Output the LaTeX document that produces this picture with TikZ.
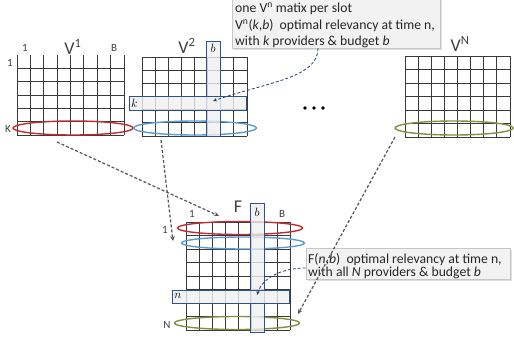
\documentclass[tikz,border=0pt]{standalone}
\usepackage{fontspec}
\setmainfont{Carlito}
\usetikzlibrary{shapes.geometric,arrows.meta,shadows}
\definecolor{gridc}{HTML}{3A3A3A}
\definecolor{boxblue}{HTML}{2E528F}
\definecolor{ered}{HTML}{C42A30}
\definecolor{eblue}{HTML}{5B9BD5}
\definecolor{egreen}{HTML}{7F9140}
\definecolor{arrgray}{HTML}{555555}
\definecolor{linkblue}{HTML}{24426E}
\definecolor{labc}{HTML}{404040}
\newcommand{\drawgrid}[7]{%
  \foreach \i in {0,...,#5} {\draw[gridline] ({#1+\i*(#3-#1)/#5},#2) -- ({#1+\i*(#3-#1)/#5},#4);}
  \foreach \j in {#7,...,#6} {\draw[gridline] (#1,{#2+\j*(#4-#2)/#6}) -- (#3,{#2+\j*(#4-#2)/#6});}
}
\tikzset{
  gridline/.style={draw=gridc, line width=0.8pt},
  ell/.style={ellipse, inner sep=0pt, line width=1.4pt},
  hbox/.style={draw=boxblue, line width=1pt, fill=gray!12, fill opacity=0.8, inner sep=0pt},
  bigv/.style={font=\fontsize{18}{18}\selectfont, text=labc, inner sep=0pt},
  smalllab/.style={font=\fontsize{11}{11}\selectfont, text=labc, inner sep=0pt},
  mathlab/.style={font=\fontsize{13}{13}\selectfont, inner sep=0pt},
  calloutbox/.style={draw=gray!45, fill=gray!10, line width=0.6pt, inner sep=0pt,
    drop shadow={shadow xshift=2pt, shadow yshift=-2pt, opacity=0.25}},
  callouttext/.style={align=left, inner sep=0pt, anchor=west, text=black!85},
  grayarrow/.style={draw=arrgray, line width=1.2pt, dash pattern=on 3pt off 2pt,
    -{Stealth[length=5pt,width=4.5pt]}},
  bluearrow/.style={draw=linkblue, line width=0.8pt, dash pattern=on 3pt off 2pt,
    -{Stealth[length=4pt,width=3.5pt]}},
}
\begin{document}
\begin{tikzpicture}[x=1pt,y=-1pt]
\useasboundingbox (0,0) rectangle (514,343);
\fill[white] (0,0) rectangle (514,343);

% grids
\drawgrid{17}{55}{124}{135}{8}{6}{1}
\drawgrid{142}{57}{247}{136}{8}{6}{0}
\drawgrid{405}{56}{510}{137}{8}{6}{0}
\drawgrid{186}{222}{290}{330}{8}{8}{0}

% ellipses
\node[ell, draw=ered, minimum width=120pt, minimum height=14pt] (e1) at (73,128) {};
\node[ell, draw=eblue, minimum width=123pt, minimum height=14pt] (e2) at (195,128) {};
\node[ell, draw=egreen, minimum width=118pt, minimum height=14pt] (eN) at (454,128) {};
\node[ell, draw=ered, minimum width=125pt, minimum height=13pt] (fR) at (240,228) {};
\node[ell, draw=eblue, minimum width=123pt, minimum height=12pt] (fB) at (243,243) {};
\node[ell, draw=egreen, minimum width=125pt, minimum height=13pt] (fG) at (237,323) {};

% highlight boxes
\node[hbox, minimum width=14pt, minimum height=95pt] (bV) at (213,88.5) {};
\node[hbox, minimum width=117pt, minimum height=14pt] (kV) at (187.5,103) {};
\node[hbox, minimum width=14pt, minimum height=129pt] (bF) at (257,267.5) {};
\node[hbox, minimum width=117pt, minimum height=13pt] (nF) at (230.5,296.5) {};
\node[mathlab] (lbV) at (213,48) {$b$};
\node[mathlab] (lkV) at (134.5,103) {$k$};
\node[mathlab] (lbF) at (257,212) {$b$};
\node[mathlab] (lnF) at (178,296) {$n$};

% labels
\node[bigv] (V1) at (73,47) {V\textsuperscript{1}};
\node[bigv] (V2) at (187,46) {V\textsuperscript{2}};
\node[bigv] (VN) at (460,44) {V\textsuperscript{N}};
\node[bigv] (F) at (238,207) {F};
\node[smalllab] (c1a) at (25,48) {1};
\node[smalllab] (cBa) at (114,48) {B};
\node[smalllab] (r1a) at (10,63) {1};
\node[smalllab] (rKa) at (8,129) {K};
\node[smalllab] (c1f) at (192,214) {1};
\node[smalllab] (cBf) at (282,214) {B};
\node[smalllab] (r1f) at (165,230) {1};
\node[smalllab] (rNf) at (167,325) {N};

% dots
\fill[black] (305,108) circle (1.8) (314,108) circle (1.8) (323,108) circle (1.8);

% callouts
\node[calloutbox, minimum width=208pt, minimum height=52pt] (call1) at (336,22) {};
\node[callouttext, font=\fontsize{13.7}{16.5}\selectfont] (call1t) at (235,25.5)
  {one V\textsuperscript{n} matix per slot\\
   V\textsuperscript{n}(\textit{k},\textit{b})\ \ optimal relevancy at time n,\\
   with \textit{k} providers \& budget \textit{b}};
\node[calloutbox, minimum width=204pt, minimum height=31pt] (call2) at (408,263.5) {};
\node[callouttext, font=\fontsize{13.7}{13}\selectfont] (call2t) at (308,266)
  {F(\textit{n},\textit{b})\ \ optimal relevancy at time n,\\
   with all \textit{N} providers \& budget \textit{b}};

% connectors
\coordinate (a1s) at (57,142);
\coordinate (a1e) at (219,216);
\coordinate (a2s) at (161,140);
\coordinate (a2e) at (173,241);
\coordinate (a3s) at (395,137);
\coordinate (a3e) at (298,314);
\draw[grayarrow] (a1s) -- (a1e);
\draw[grayarrow] (a2s) -- (a2e);
\draw[grayarrow] (a3s) -- (a3e);

\coordinate (t1) at (213,101);
\coordinate (t2) at (257,295);
\draw[bluearrow] (call1.south -| 318,0) .. controls (318,78) and (268,82) .. (t1);
\draw[bluearrow] (call2.west |- 0,268) .. controls (280,268) and (262,279) .. (t2);
\end{tikzpicture}
\end{document}
